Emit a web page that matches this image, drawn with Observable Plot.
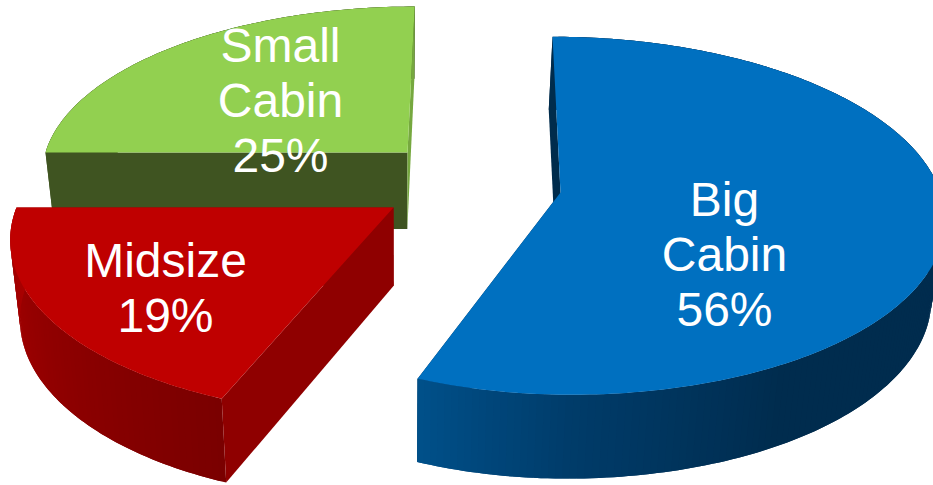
<!DOCTYPE html>
<html>
<head>
<meta charset="utf-8">
<style>html,body{margin:0;padding:0;background:#fff;overflow:hidden}svg{display:block}</style>
<script src="https://cdn.jsdelivr.net/npm/d3@7"></script>
<script src="https://cdn.jsdelivr.net/npm/@observablehq/plot@0.6"></script>
</head>
<body>
<script>
// Market share by cabin class, clockwise from twelve o'clock.
const categories = ["Big\nCabin", "Midsize", "Small\nCabin"];
const shares = [56, 19, 25];

const topColors = ["#0070c0", "#bf0000", "#92d050"];
const frontWallColors = ["#002c4c", "#8f0000", "#3f5421"];
const endWallColors = ["#002c4c", "#8f0000", "#76a83f"];
// Whether the closing cut of a slice sits under its own rim.
const endWallHidden = [true, true, false];

// Shading of the rim, keyed by clockwise angle in degrees.
const rimShades = [
  {angles: [110, 150, 180, 201.6], colors: ["#002c4e", "#002c4e", "#003c6a", "#00508a"]},
  {angles: [201.6, 235, 270], colors: ["#7a0000", "#900000", "#aa0000"]},
  {angles: [270, 360], colors: ["#3f5421", "#3f5421"]}
];

// Exploded-slice placement and the tilted-disc projection of each slice.
const slices = [
  {cx: 560, cy: 192, aLeft: 364, aRight: 380, b: 176, skew: -9, k: 0.13, labelX: 724, labelY: 253},
  {cx: 393, cy: 207, aLeft: 377, aRight: 377, b: 175, skew: 8, k: 0.16, labelX: 165, labelY: 286},
  {cx: 407, cy: 152, aLeft: 362, aRight: 362, b: 162, skew: 8, k: 0.11, labelX: 280, labelY: 99}
];

const rad = (deg) => (deg * Math.PI) / 180;

// Point on the top face: r is the fraction of the radius, deg runs clockwise from the back.
function onTop(s, deg, r = 1) {
  const u = r * Math.sin(rad(deg));
  const v = r * Math.cos(rad(deg));
  const w = 1 / (1 + s.k * v);
  const a = u > 0 ? s.aRight : s.aLeft;
  return [s.cx + (a * u + s.skew * v) * w, s.cy - s.b * v * w];
}

// The same point dropped to the underside, drawn slightly toward the vanishing line.
const dropped = ([x, y]) => [x + (400 - x) * 0.025, y + 72 + 0.03 * y];

const underFaces = [];
const rimFaces = [];
const wallFaces = [];
const topFaces = [];
let faceId = 0;

function pushFace(target, slice, fill, pts) {
  const z = faceId++;
  for (const [x, y] of pts) target.push({x, y, z, fill, slice});
}

let start = 0;
shares.forEach((share, i) => {
  const s = slices[i];
  const end = start + (share / d3.sum(shares)) * 360;
  const shade = d3.scaleLinear().domain(rimShades[i].angles).range(rimShades[i].colors)
    .interpolate(d3.interpolateRgb).clamp(true);
  const apex = onTop(s, 0, 0);
  const first = onTop(s, start);
  const last = onTop(s, end);

  // Straight cut walls of the slice.
  pushFace(wallFaces, i, frontWallColors[i], [apex, first, dropped(first), dropped(apex)]);
  pushFace(endWallHidden[i] ? underFaces : wallFaces, i, endWallColors[i], [apex, last, dropped(last), dropped(apex)]);

  // Rim, one narrow facet per step; each facet runs under the next to close the seams.
  const steps = Math.ceil(end - start);
  const stepSize = (end - start) / steps;
  for (let n = 0; n < steps; ++n) {
    const d0 = start + stepSize * n;
    const d1 = Math.min(end, d0 + stepSize * 2);
    const p0 = onTop(s, d0);
    const pm = onTop(s, (d0 + d1) / 2);
    const p1 = onTop(s, d1);
    pushFace(rimFaces, i, shade(d0 + stepSize / 2), [p0, pm, p1, dropped(p1), dropped(pm), dropped(p0)]);
  }

  // Top face.
  const outline = [apex];
  for (let n = 0; n <= steps; ++n) outline.push(onTop(s, start + stepSize * n));
  pushFace(topFaces, i, topColors[i], outline);

  start = end;
});

const labels = categories.map((name, i) => ({
  text: `${name}\n${shares[i]}%`,
  x: slices[i].labelX,
  y: slices[i].labelY
}));

const faceOptions = {x: "x", y: "y", z: "z", fill: "fill", stroke: "none"};

// Paint the farthest slice first so nearer slices overlap it.
const paintOrder = [2, 1, 0];
const marks = [];
for (const i of paintOrder) {
  const only = (rows) => rows.filter((d) => d.slice === i);
  marks.push(Plot.line(only(underFaces), faceOptions));
  marks.push(Plot.line(only(rimFaces), faceOptions));
  marks.push(Plot.line(only(wallFaces), faceOptions));
  marks.push(Plot.line(only(topFaces), faceOptions));
}
marks.push(Plot.text(labels, {
  x: "x",
  y: "y",
  text: "text",
  fill: "#fff",
  fontSize: 48,
  lineHeight: 1.15,
  lineAnchor: "middle",
  textAnchor: "middle",
  fontFamily: "Liberation Sans, Arial, sans-serif"
}));

const chart = Plot.plot({
  width: 933,
  height: 485,
  margin: 0,
  style: {background: "#fff"},
  x: {domain: [0, 933], range: [0, 933], axis: null},
  y: {domain: [0, 485], range: [0, 485], axis: null},
  color: {type: "identity"},
  marks
});
document.body.appendChild(chart);
</script>
</body>
</html>
